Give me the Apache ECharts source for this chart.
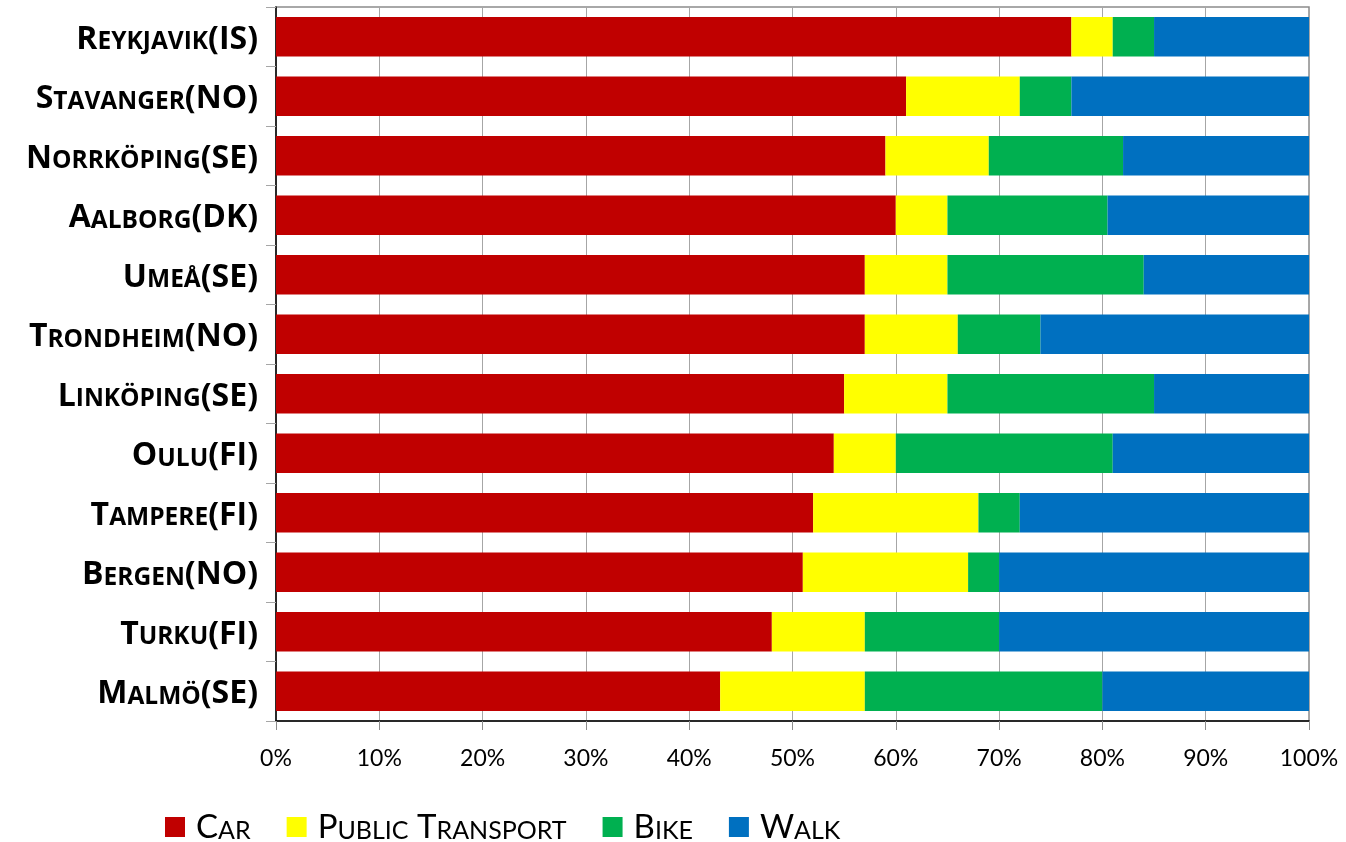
<!DOCTYPE html>
<html>
<head>
<meta charset="utf-8">
<script src="https://cdn.jsdelivr.net/npm/echarts@6/dist/echarts.min.js"></script>
<style>
html,body{margin:0;padding:0;background:#fff;}
#main{width:1346px;height:842px;}
</style>
</head>
<body>
<div id="main"></div>
<script>
const cities = ['Reykjavik(IS)','Stavanger(NO)','Norrköping(SE)','Aalborg(DK)','Umeå(SE)','Trondheim(NO)','Linköping(SE)','Oulu(FI)','Tampere(FI)','Bergen(NO)','Turku(FI)','Malmö(SE)'];
const seriesNames = ['Car','Public Transport','Bike','Walk'];
const car    = [77, 61, 59, 60,   57, 57, 55, 54, 52, 51, 48, 43];
const publicTransport = [4, 11, 10, 5, 8, 9, 10, 6, 16, 16, 9, 14];
const bike   = [4, 5, 13, 15.5, 19, 8, 20, 21, 4, 3, 13, 23];
const walk   = [15, 23, 18, 19.5, 16, 26, 15, 19, 28, 30, 30, 20];
const xTicks = [0,10,20,30,40,50,60,70,80,90,100];
const colors = ['#C00000','#FFFF00','#00B050','#0070C0'];

function smallCaps(s, big, small, first) {
  let out = '', cur = null, buf = '', idx = 0;
  for (const ch of s) {
    const lower = ch !== ch.toUpperCase();
    let t = lower ? small : big;
    if (idx === 0 && first) t = first;
    const c = lower ? ch.toUpperCase() : ch;
    if (t !== cur) { if (buf) out += '{' + cur + '|' + buf + '}'; buf = ''; cur = t; }
    buf += c;
    idx++;
  }
  if (buf) out += '{' + cur + '|' + buf + '}';
  return out;
}

const YFONT = 'Open Sans';
const FONT = 'Lato';
const chart = echarts.init(document.getElementById('main'));
const data = [car, publicTransport, bike, walk];
chart.setOption({
  animation: false,
  color: colors,
  grid: { left: 276, right: 37, top: 7, bottom: 121, show: true, borderColor: '#8c8c8c', borderWidth: 1.5, containLabel: false },
  xAxis: {
    type: 'value', min: 0, max: 100, interval: 10,
    axisLine: { show: true, lineStyle: { color: '#000', width: 1.5 } },
    axisTick: { show: true, length: 9, lineStyle: { color: '#8c8c8c', width: 1 } },
    splitLine: { show: true, lineStyle: { color: '#a6a6a6', width: 1 } },
    axisLabel: { formatter: v => v + '%', color: '#000', fontFamily: FONT, fontSize: 23, margin: 26 }
  },
  yAxis: {
    type: 'category', data: cities, inverse: true,
    axisLine: { show: true, lineStyle: { color: '#000', width: 1.5 } },
    axisTick: { show: true, length: 10, lineStyle: { color: '#a6a6a6' } },
    axisLabel: {
      margin: 18, color: '#000',
      formatter: v => smallCaps(v, 'b', 's'),
      rich: {
        b: { fontFamily: YFONT, fontWeight: 'bold', fontSize: 32, color: '#000', verticalAlign: 'bottom', lineHeight: 38 },
        s: { fontFamily: YFONT, fontWeight: 'bold', fontSize: 24.5, color: '#000', verticalAlign: 'bottom', lineHeight: 38, padding: [0,0,1,0] }
      }
    }
  },
  legend: {
    left: 165, top: 811, padding: 0, itemWidth: 20, itemHeight: 20, itemGap: 36,
    icon: 'rect',
    formatter: n => smallCaps(n, 'b', 's', 'f'),
    textStyle: {
      color: '#000',
      rich: {
        f: { fontFamily: FONT, fontSize: 33, color: '#000', verticalAlign: 'bottom', lineHeight: 34, padding: [0,0,0,6] },
        b: { fontFamily: FONT, fontSize: 33, color: '#000', verticalAlign: 'bottom', lineHeight: 34 },
        s: { fontFamily: FONT, fontSize: 25, color: '#000', verticalAlign: 'bottom', lineHeight: 34, padding: [0,0,1,0] }
      }
    }
  },
  series: seriesNames.map((n, i) => ({
    name: n, type: 'bar', stack: 'total', data: data[i], barWidth: '66.5%'
  }))
});
</script>
</body>
</html>
